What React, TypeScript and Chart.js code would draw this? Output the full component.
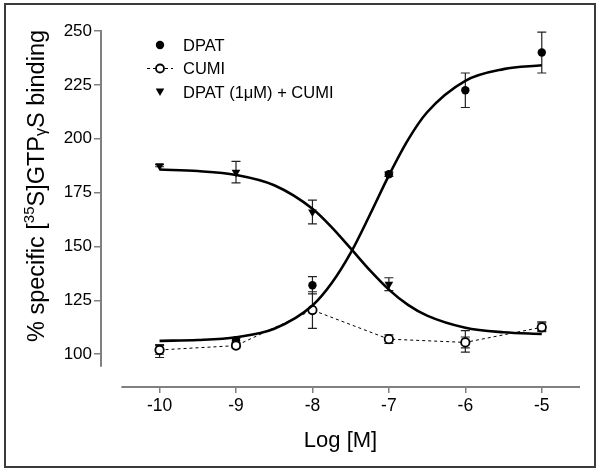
import React, { useEffect, useRef } from "react";
import { Chart, registerables } from "chart.js";

Chart.register(...registerables);

// ---- data ----
const logConc = [-10, -9, -8, -7, -6, -5];
const dpatMean = [101.5, 106.5, 132, 183.5, 222.5, 240];
const dpatSem = [3, 1, 4, 1, 8, 9.5];
const cumiMean = [102, 104, 120.5, 107, 105.5, 112.5];
const cumiSem = [2, 1, 8.5, 2, 2.5, 2];
const comboMean = [187.5, 184.5, 166, 132.5, 106, 113];
const comboSem = [0.5, 5, 5.5, 3, 5, 2];

// fitted curves at these log concentrations
const curveX = [-10, -9.5, -9, -8.5, -8, -7.75, -7.5, -7.25, -7, -6.75, -6.5, -6, -5.5, -5];
const dpatCurve = [106.2, 106.6, 107.9, 111.8, 122.6, 132.9, 147.0, 164.6, 183.0, 199.5, 212.3, 226.9, 232.3, 234.1];
const comboCurve = [185.7, 185.0, 183.2, 178.4, 167.5, 159.0, 149.1, 139.0, 130.0, 122.9, 117.9, 112.3, 110.2, 109.4];

const xTicks = [-10, -9, -8, -7, -6, -5];
const yTicks = [100, 125, 150, 175, 200, 225, 250];

const legendLabels = ["DPAT", "CUMI", "DPAT (1\u03BCM) + CUMI"];
const yTitleParts = ["% specific [", "35", "S]GTP", "\u03B3", "S binding"];
const xTitle = "Log [M]";

const FONT = "'Liberation Sans', Arial, sans-serif";

const toPts = (xs: number[], ys: number[]) => xs.map((x, i) => ({ x, y: ys[i] }));

const frameAndAxesPlugin = {
  id: "frameAndAxes",
  beforeDraw(chart: any) {
    const { ctx } = chart;
    ctx.save();
    ctx.strokeStyle = "#3a3a3a";
    ctx.lineWidth = 2;
    ctx.strokeRect(5, 4, 590, 463);
    ctx.restore();
  },
  afterDraw(chart: any) {
    const { ctx, chartArea, scales } = chart;
    const x = scales.x;
    const y = scales.y;
    ctx.save();
    ctx.strokeStyle = "#808080";
    ctx.lineWidth = 2;
    // y axis line
    ctx.beginPath();
    ctx.moveTo(chartArea.left, y.getPixelForValue(94.25));
    ctx.lineTo(chartArea.left, y.getPixelForValue(250) - 1);
    ctx.stroke();
    // x axis line
    ctx.beginPath();
    ctx.moveTo(x.getPixelForValue(-10.5), chartArea.bottom);
    ctx.lineTo(x.getPixelForValue(-4.5), chartArea.bottom);
    ctx.stroke();

    // y title with superscript / small gamma
    const sizes = [23.5, 15, 23.5, 16, 23.5];
    const offs = [0, -10, 0, 2, 0];
    ctx.fillStyle = "#000";
    ctx.textBaseline = "alphabetic";
    let total = 0;
    const widths: number[] = [];
    yTitleParts.forEach((t, i) => {
      ctx.font = `${sizes[i]}px ${FONT}`;
      const w = ctx.measureText(t).width;
      widths.push(w);
      total += w;
    });
    ctx.translate(44, 186);
    ctx.rotate(-Math.PI / 2);
    let cx = -total / 2;
    yTitleParts.forEach((t, i) => {
      ctx.font = `${sizes[i]}px ${FONT}`;
      ctx.fillText(t, cx, offs[i]);
      cx += widths[i];
    });
    ctx.restore();

    // legend
    ctx.save();
    const lx = 160;
    const rows = [45, 68.5, 92];
    ctx.fillStyle = "#000";
    ctx.strokeStyle = "#000";
    // DPAT
    ctx.beginPath();
    ctx.arc(lx, rows[0], 4.2, 0, Math.PI * 2);
    ctx.fill();
    // CUMI
    ctx.lineWidth = 1;
    ctx.setLineDash([3, 3]);
    ctx.beginPath();
    ctx.moveTo(147, rows[1]);
    ctx.lineTo(173, rows[1]);
    ctx.stroke();
    ctx.setLineDash([]);
    ctx.lineWidth = 1.8;
    ctx.fillStyle = "#fff";
    ctx.beginPath();
    ctx.arc(lx, rows[1], 4, 0, Math.PI * 2);
    ctx.fill();
    ctx.stroke();
    // triangle
    ctx.fillStyle = "#000";
    ctx.beginPath();
    ctx.moveTo(lx - 4.3, rows[2] - 3.5);
    ctx.lineTo(lx + 4.3, rows[2] - 3.5);
    ctx.lineTo(lx, rows[2] + 4);
    ctx.closePath();
    ctx.fill();
    ctx.font = `16.5px ${FONT}`;
    ctx.textBaseline = "middle";
    legendLabels.forEach((t, i) => ctx.fillText(t, 183, rows[i] + 1));
    ctx.restore();
  },
};

const errorBarPlugin = {
  id: "errorBars",
  beforeDatasetsDraw(chart: any) {
    const { ctx, scales } = chart;
    const x = scales.x;
    const y = scales.y;
    ctx.save();
    ctx.strokeStyle = "#222";
    ctx.lineWidth = 1.2;
    chart.data.datasets.forEach((ds: any) => {
      if (!ds.errors) return;
      ds.data.forEach((p: any, j: number) => {
        const e = ds.errors[j];
        const px = x.getPixelForValue(p.x);
        const top = y.getPixelForValue(p.y + e);
        const bot = y.getPixelForValue(p.y - e);
        ctx.beginPath();
        ctx.moveTo(px, top);
        ctx.lineTo(px, bot);
        ctx.moveTo(px - 4.5, top);
        ctx.lineTo(px + 4.5, top);
        ctx.moveTo(px - 4.5, bot);
        ctx.lineTo(px + 4.5, bot);
        ctx.stroke();
      });
    });
    ctx.restore();
  },
};

export default function App() {
  const ref = useRef<HTMLCanvasElement | null>(null);

  useEffect(() => {
    if (!ref.current) return;
    const chart = new Chart(ref.current, {
      type: "scatter",
      data: {
        datasets: [
          {
            label: "DPAT fit",
            data: toPts(curveX, dpatCurve),
            showLine: true,
            borderColor: "#000",
            borderWidth: 2.6,
            pointRadius: 0,
            cubicInterpolationMode: "monotone",
          },
          {
            label: "DPAT (1\u03BCM) + CUMI fit",
            data: toPts(curveX, comboCurve),
            showLine: true,
            borderColor: "#000",
            borderWidth: 2.6,
            pointRadius: 0,
            cubicInterpolationMode: "monotone",
          },
          {
            label: "CUMI",
            data: toPts(logConc, cumiMean),
            errors: cumiSem,
            showLine: true,
            borderColor: "#000",
            borderWidth: 1,
            borderDash: [3, 3],
            pointRadius: 4.2,
            pointBorderWidth: 1.8,
            pointBackgroundColor: "#fff",
            pointBorderColor: "#000",
          } as any,
          {
            label: "DPAT",
            data: toPts(logConc, dpatMean),
            errors: dpatSem,
            showLine: false,
            pointRadius: 4.2,
            pointBorderWidth: 0,
            pointBackgroundColor: "#000",
            pointBorderColor: "#000",
          } as any,
          {
            label: "DPAT (1\u03BCM) + CUMI",
            data: toPts(logConc, comboMean),
            errors: comboSem,
            showLine: false,
            pointStyle: "triangle",
            rotation: 180,
            pointRadius: 5,
            pointBorderWidth: 0,
            pointBackgroundColor: "#000",
            pointBorderColor: "#000",
          } as any,
        ],
      },
      options: {
        animation: false,
        responsive: true,
        maintainAspectRatio: false,
        layout: { padding: { left: 0, right: 20, top: 31, bottom: 0 } },
        plugins: {
          legend: { display: false },
          tooltip: { enabled: false },
        },
        scales: {
          x: {
            type: "linear",
            min: -10.766,
            max: -4.5,
            afterBuildTicks: (s: any) => {
              s.ticks = xTicks.map((v) => ({ value: v }));
            },
            afterFit: (s: any) => {
              s.height = 85;
            },
            border: { display: false },
            grid: {
              display: true,
              drawOnChartArea: false,
              drawTicks: true,
              tickLength: 6,
              color: "#808080",
              lineWidth: 1.5,
            },
            ticks: {
              color: "#000",
              font: { family: FONT, size: 17.5 },
              padding: 3,
              maxRotation: 0,
              callback: (v: any) => String(v),
            },
            title: {
              display: true,
              text: xTitle,
              color: "#000",
              font: { family: FONT, size: 22 },
              padding: { top: 0, bottom: 18 },
            },
          },
          y: {
            type: "linear",
            min: 84.8,
            max: 250,
            afterBuildTicks: (s: any) => {
              s.ticks = yTicks.map((v) => ({ value: v }));
            },
            afterFit: (s: any) => {
              s.width = 101;
            },
            border: { display: false },
            grid: {
              display: true,
              drawOnChartArea: false,
              drawTicks: true,
              tickLength: 7,
              color: "#808080",
              lineWidth: 1.5,
            },
            ticks: {
              color: "#000",
              font: { family: FONT, size: 17 },
              padding: 2,
              callback: (v: any) => String(v),
            },
          },
        },
      },
      plugins: [frameAndAxesPlugin, errorBarPlugin],
    } as any);
    return () => chart.destroy();
  }, []);

  return (
    <div style={{ position: "fixed", left: 0, top: 0, width: 600, height: 472, background: "#fff" }}>
      <canvas ref={ref} />
    </div>
  );
}
